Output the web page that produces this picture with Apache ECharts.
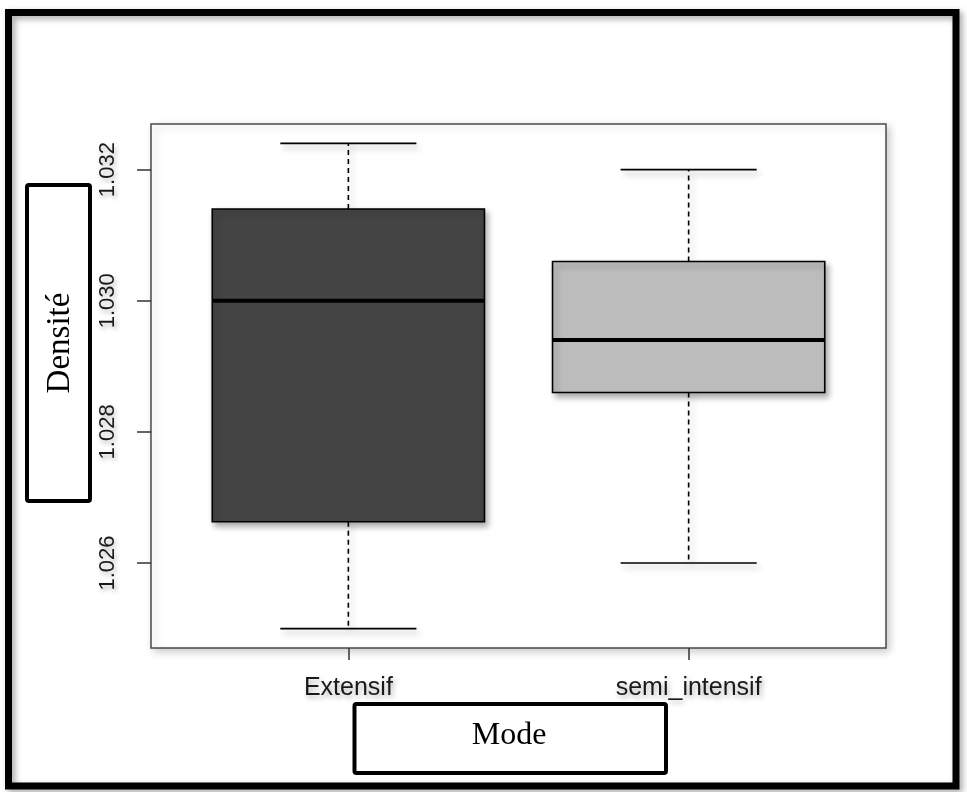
<!DOCTYPE html>
<html>
<head>
<meta charset="utf-8">
<script src="https://cdn.jsdelivr.net/npm/echarts@6/dist/echarts.min.js"></script>
<style>
  html, body { margin: 0; padding: 0; background: #fff; }
  #chart { width: 967px; height: 792px; }
</style>
</head>
<body>
<div id="chart"></div>
<script>
// Groups along the x axis
const modes = ['Extensif', 'semi_intensif'];
// Five-number summaries per group (lower whisker, Q1, median, Q3, upper whisker)
const lowWhisker  = [1.0250, 1.0260];
const q1          = [1.02663, 1.0286];
const median      = [1.0300, 1.0294];
const q3          = [1.0314, 1.0306];
const highWhisker = [1.0324, 1.0320];
// Box fills
const boxColors = ['#444444', '#bcbcbc'];
// Y tick values
const yTicks = [1.026, 1.028, 1.030, 1.032];
// Axis titles
const yTitle = 'Densité';
const xTitle = 'Mode';

const rows = modes.map((m, i) => [i + 1, lowWhisker[i], q1[i], median[i], q3[i], highWhisker[i]]);

// R-style 4% padding around the data range
const allLo = Math.min(...lowWhisker), allHi = Math.max(...highWhisker);
const pad = (allHi - allLo) * 0.04;
const xPad = modes.length * 0.04;

const shadow = { shadowBlur: 6, shadowColor: 'rgba(0,0,0,0.32)', shadowOffsetX: 3, shadowOffsetY: 4 };
const textShadow = { textShadowBlur: 5, textShadowColor: 'rgba(0,0,0,0.3)', textShadowOffsetX: 2, textShadowOffsetY: 3 };

function renderBox(params, api) {
  const x = api.value(0);
  const pLow = api.coord([x, api.value(1)]);
  const pQ1 = api.coord([x, api.value(2)]);
  const pMed = api.coord([x, api.value(3)]);
  const pQ3 = api.coord([x, api.value(4)]);
  const pHigh = api.coord([x, api.value(5)]);
  const half = api.size([0.4, 0])[0];
  const cx = pMed[0];
  const capHalf = half / 2;
  const whiskerStyle = Object.assign({ stroke: '#000', lineWidth: 1.6, lineDash: [5, 4] }, shadow);
  const capStyle = Object.assign({ stroke: '#000', lineWidth: 1.6 }, shadow);
  return {
    type: 'group',
    children: [
      { type: 'line', shape: { x1: cx, y1: pQ3[1], x2: cx, y2: pHigh[1] }, style: whiskerStyle },
      { type: 'line', shape: { x1: cx, y1: pQ1[1], x2: cx, y2: pLow[1] }, style: whiskerStyle },
      { type: 'line', shape: { x1: cx - capHalf, y1: pHigh[1], x2: cx + capHalf, y2: pHigh[1] }, style: capStyle },
      { type: 'line', shape: { x1: cx - capHalf, y1: pLow[1], x2: cx + capHalf, y2: pLow[1] }, style: capStyle },
      {
        type: 'rect',
        shape: { x: cx - half, y: pQ3[1], width: half * 2, height: pQ1[1] - pQ3[1] },
        style: Object.assign({ fill: boxColors[params.dataIndex], stroke: '#000', lineWidth: 1.6 }, shadow)
      },
      { type: 'line', shape: { x1: cx - half, y1: pMed[1], x2: cx + half, y2: pMed[1] }, style: { stroke: '#000', lineWidth: 4 } }
    ]
  };
}

const chart = echarts.init(document.getElementById('chart'));
chart.setOption({
  animation: false,
  backgroundColor: '#ffffff',
  grid: {
    left: 151, right: 81, top: 124, bottom: 144,
    show: true, backgroundColor: '#fff', borderColor: '#4a4a4a', borderWidth: 1.5,
    shadowBlur: 8, shadowColor: 'rgba(0,0,0,0.2)', shadowOffsetX: 3, shadowOffsetY: 3
  },
  xAxis: {
    type: 'value',
    min: 0.5 - xPad, max: modes.length + 0.5 + xPad,
    splitLine: { show: false },
    axisLine: { show: false },
    axisTick: { show: true, customValues: [1, 2], length: 12, lineStyle: { color: '#333', width: 1.5 } },
    axisLabel: Object.assign({
      customValues: [1, 2],
      formatter: v => modes[Math.round(v) - 1],
      margin: 28, fontSize: 25, fontFamily: 'Liberation Sans, Arial, sans-serif', color: '#1a1a1a'
    }, textShadow)
  },
  yAxis: {
    type: 'value',
    min: allLo - pad, max: allHi + pad,
    splitLine: { show: false },
    axisLine: { show: false },
    axisTick: { show: true, customValues: yTicks, length: 14, lineStyle: { color: '#333', width: 1.5 } },
    axisLabel: Object.assign({
      customValues: yTicks,
      formatter: v => v.toFixed(3),
      rotate: 90, margin: 32, fontSize: 22, fontFamily: 'Liberation Sans, Arial, sans-serif', color: '#1a1a1a'
    }, textShadow)
  },
  series: [{
    type: 'custom',
    renderItem: renderBox,
    encode: { x: 0, y: [1, 2, 3, 4, 5] },
    data: rows,
    clip: false
  }],
  graphic: [
    {
      type: 'rect', z: 100, silent: true,
      shape: { x: 8.5, y: 12.5, width: 947.5, height: 773.5 },
      style: { fill: 'none', stroke: '#000', lineWidth: 7, shadowBlur: 6, shadowColor: 'rgba(0,0,0,0.35)', shadowOffsetX: 3, shadowOffsetY: 3 }
    },
    {
      type: 'group', z: 100,
      children: [
        { type: 'rect', shape: { x: 27, y: 185, width: 63, height: 316, r: 2 },
          style: { fill: '#fff', stroke: '#000', lineWidth: 4 } },
        { type: 'text', x: 60, y: 343, rotation: Math.PI / 2,
          style: { text: yTitle, font: '33px "Liberation Serif", "Times New Roman", serif', fill: '#000', align: 'center', verticalAlign: 'middle' } }
      ]
    },
    {
      type: 'group', z: 100,
      children: [
        { type: 'rect', shape: { x: 354.5, y: 704, width: 311.5, height: 69, r: 2 },
          style: { fill: '#fff', stroke: '#000', lineWidth: 4 } },
        { type: 'text', x: 509, y: 736,
          style: { text: xTitle, font: '32px "Liberation Serif", "Times New Roman", serif', fill: '#000', align: 'center', verticalAlign: 'middle' } }
      ]
    }
  ]
});
</script>
</body>
</html>
